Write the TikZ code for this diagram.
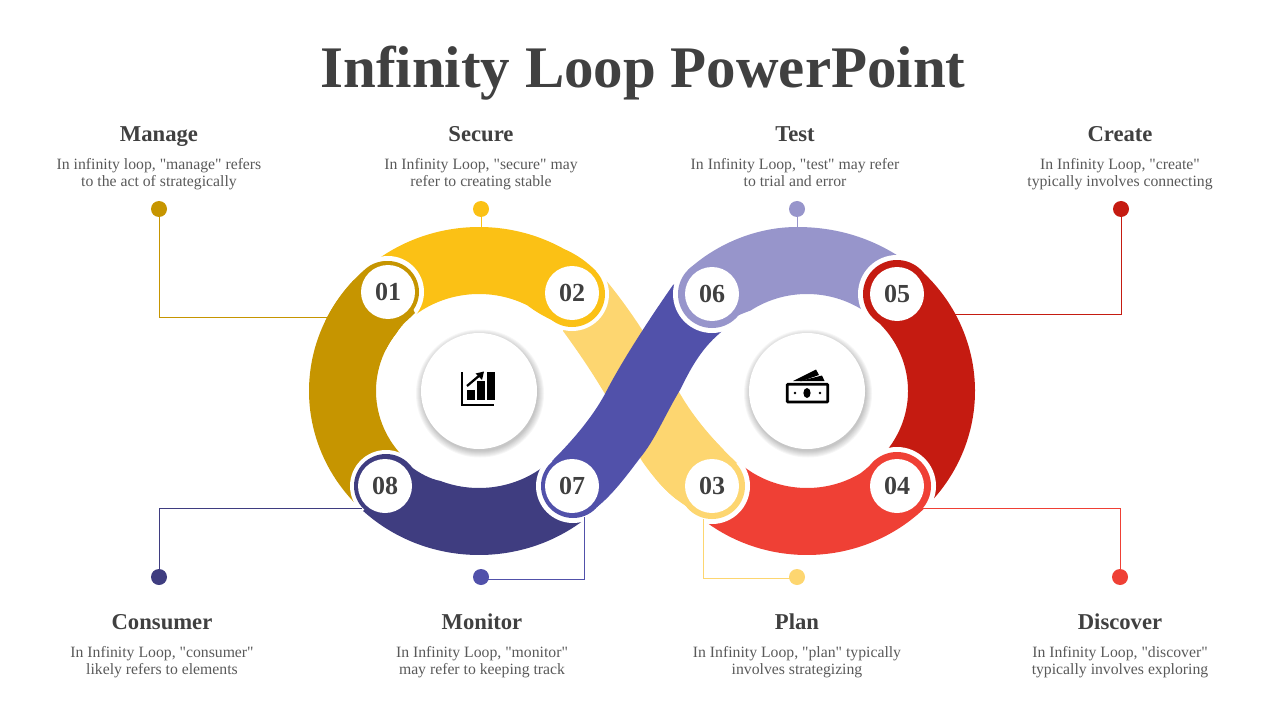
\documentclass[tikz,border=0pt]{standalone}
\usepackage{fontspec}
\setmainfont{Liberation Serif}[Ligatures=TeXOff]
\usepackage{xcolor}
\usetikzlibrary{calc}
\definecolor{goldc}{HTML}{C69500}
\definecolor{yellowc}{HTML}{FBC115}
\definecolor{sandc}{HTML}{FDD670}
\definecolor{redc}{HTML}{EF4035}
\definecolor{brickc}{HTML}{C51B11}
\definecolor{lilacc}{HTML}{9795CB}
\definecolor{bluec}{HTML}{5151AA}
\definecolor{navyc}{HTML}{3F3D80}
\definecolor{inkc}{HTML}{404040}
\definecolor{bodyc}{HTML}{595959}
\tikzset{
  titletxt/.style={font=\fontsize{44.2}{48}\selectfont\bfseries,text=inkc,anchor=base},
  headtxt/.style={font=\fontsize{17}{20}\selectfont\bfseries,text=inkc,anchor=base},
  desctxt/.style={font=\fontsize{11.8}{12.75}\selectfont,text=bodyc,align=center,text height=9pt,text depth=16pt},
  numnode/.style={circle,fill=white,inner sep=0pt,minimum size=40.5pt,text=inkc,font=\fontsize{19.5}{20}\selectfont\bfseries},
  hubnode/.style={circle,fill=white,inner sep=0pt,minimum size=87pt},
  dotnode/.style={circle,inner sep=0pt,minimum size=12pt},
  link/.style={line width=0.65pt}
}
\begin{document}
\begin{tikzpicture}[x=0.75pt,y=-0.75pt]
  \useasboundingbox (0,0) rectangle (1280,720);
  \coordinate (lc) at (479,391);
  \coordinate (rc) at (807,391);

  \node[titletxt] (title) at (643,88) {Infinity Loop PowerPoint};

  % top row texts
  \node[headtxt] (t1) at (159,141.5) {Manage};
  \node[desctxt] (d1) at (159,190.7) {In infinity loop, "manage" refers\\to the act of strategically};
  \node[headtxt] (t2) at (481,141.5) {Secure};
  \node[desctxt] (d2) at (481,190.7) {In Infinity Loop, "secure" may\\refer to creating stable};
  \node[headtxt] (t6) at (795,141.5) {Test};
  \node[desctxt] (d6) at (795,190.7) {In Infinity Loop, "test" may refer\\to trial and error};
  \node[headtxt] (t5) at (1120,141.5) {Create};
  \node[desctxt] (d5) at (1120,190.7) {In Infinity Loop, "create"\\typically involves connecting};
  % bottom row texts
  \node[headtxt] (t8) at (162,629.5) {Consumer};
  \node[desctxt] (d8) at (162,678.7) {In Infinity Loop, "consumer"\\likely refers to elements};
  \node[headtxt] (t7) at (482,629.5) {Monitor};
  \node[desctxt] (d7) at (482,678.7) {In Infinity Loop, "monitor"\\may refer to keeping track};
  \node[headtxt] (t3) at (797,629.5) {Plan};
  \node[desctxt] (d3) at (797,678.7) {In Infinity Loop, "plan" typically\\involves strategizing};
  \node[headtxt] (t4) at (1120,629.5) {Discover};
  \node[desctxt] (d4) at (1120,678.7) {In Infinity Loop, "discover"\\typically involves exploring};

  % gold band, its head comes again at the end
  \fill[goldc] ($(lc)+(130:170 and 164)$) arc[start angle=130,end angle=228,x radius=170,y radius=164]
    .. controls (372,263) and (380,261) .. (388,261) -- (415,313)
    .. controls (408,320) and (402,324) .. ($(lc)+(217:103 and 97)$)
    arc[start angle=217,end angle=130,x radius=103,y radius=97] -- cycle;
  % sand band, under the blue one
  \fill[sandc] (590,262) .. controls (625,300) and (650,340) .. (679,392)
    .. controls (695,420) and (715,442) .. (737,463) -- (686,506)
    .. controls (670,496) and (655,480) .. (642,461)
    .. controls (625,432) and (610,395) .. (563,331) -- cycle;
  % navy
  \fill[white] (386,486) circle (36);
  \fill[navyc] ($(lc)+(50:170 and 164)$) arc[start angle=50,end angle=133,x radius=170,y radius=164]
    -- (410,466) .. controls (419,473) and (430,479) .. ($(lc)+(112:103 and 97)$)
    arc[start angle=112,end angle=50,x radius=103,y radius=97] -- cycle;
  \fill[navyc] (386,486) circle (32);
  % blue
  \fill[white] (573,486) circle (37);
  \fill[bluec] (552,461) .. controls (565,448) and (592,420) .. (607,390)
    .. controls (620,365) and (645,325) .. (673,285) -- (700,270) -- (735,318) -- (720,333)
    .. controls (700,350) and (690,370) .. (680,390)
    .. controls (665,415) and (655,440) .. (640,458)
    .. controls (625,478) and (612,495) .. (597,507) -- cycle;
  \fill[bluec] (573,486) circle (32);
  % lilac
  \fill[white] (712,294) circle (39);
  \fill[lilacc] (915,268) .. controls (880,240) and (840,227) .. (797,227)
    .. controls (755,227) and (715,245) .. (688,270)
    -- (720,325) .. controls (727,321) and (735,316) .. ($(rc)+(-124:101 and 97)$)
    arc[start angle=-124,end angle=-50,x radius=101,y radius=97] -- cycle;
  \fill[lilacc] (712,294) circle (34);
  % brick
  \fill[white] (897,294) circle (39);
  \fill[brickc] (897,261) .. controls (905,262) and (912,264) .. ($(rc)+(-49:168 and 164)$)
    arc[start angle=-49,end angle=45,x radius=168,y radius=164]
    -- ($(rc)+(45:101 and 97)$)
    arc[start angle=45,end angle=-47,x radius=101,y radius=97] -- cycle;
  \fill[brickc] (897,294) circle (34);
  % red
  \fill[white] (897,486) circle (39);
  \fill[redc] ($(rc)+(46:168 and 164)$) arc[start angle=46,end angle=130,x radius=168,y radius=164]
    -- ($(rc)+(130:101 and 97)$) arc[start angle=130,end angle=58,x radius=101,y radius=97]
    .. controls (866,469) and (871,465) .. (875,460) -- cycle;
  \fill[redc] (897,486) circle (34);
  % sand head
  \fill[white] (712,486) circle (38);
  \fill[sandc] (686,405) .. controls (703,430) and (718,445) .. (737,463) -- (686,506)
    .. controls (672,497) and (664,489) .. (655,478) -- cycle;
  \fill[sandc] (712,486) circle (33);
  % yellow
  \fill[white] (572,294) circle (37);
  \fill[yellowc] ($(lc)+(225:170 and 164)$) arc[start angle=225,end angle=300,x radius=170,y radius=164]
    .. controls (578,255) and (588,263) .. (596,271) -- (556,322)
    .. controls (545,317) and (536,312) .. ($(lc)+(298:103 and 97)$)
    arc[start angle=298,end angle=225,x radius=103,y radius=97] -- cycle;
  \fill[yellowc] (572,294) circle (33);
  % gold head on top of the yellow band
  \fill[white] (388,292) circle (36);
  \fill[goldc] ($(lc)+(205:170 and 164)$) arc[start angle=205,end angle=228,x radius=170,y radius=164]
    .. controls (372,263) and (380,261) .. (388,261) -- (415,313)
    .. controls (408,320) and (402,324) .. ($(lc)+(217:103 and 97)$)
    arc[start angle=217,end angle=205,x radius=103,y radius=97] -- cycle;
  \fill[goldc] (388,292) circle (31);

  % dots and leader lines
  \node[dotnode,fill=goldc] (dot1) at (159,209) {};
  \node[dotnode,fill=yellowc] (dot2) at (481,209) {};
  \node[dotnode,fill=lilacc] (dot6) at (797,209) {};
  \node[dotnode,fill=brickc] (dot5) at (1121,209) {};
  \node[dotnode,fill=navyc] (dot8) at (159,577) {};
  \node[dotnode,fill=bluec] (dot7) at (481,577) {};
  \node[dotnode,fill=sandc] (dot3) at (797,577) {};
  \node[dotnode,fill=redc] (dot4) at (1120,577) {};
  \coordinate (e1) at (328,317);
  \coordinate (e2) at (481,228);
  \coordinate (e6) at (797,228);
  \coordinate (e5) at (955,314);
  \coordinate (e8) at (362,508);
  \coordinate (e7) at (584,517);
  \coordinate (e3) at (703,519);
  \coordinate (e4) at (923,508);
  \draw[link,goldc] (dot1) |- (e1);
  \draw[link,yellowc] (dot2) -- (e2);
  \draw[link,lilacc] (dot6) -- (e6);
  \draw[link,brickc] (dot5) |- (e5);
  \draw[link,navyc] (dot8) |- (e8);
  \draw[link,bluec] ([yshift=-1.5pt]dot7.center) -| (e7);
  \draw[link,sandc] ([yshift=-0.75pt]dot3.center) -| (e3);
  \draw[link,redc] (dot4) |- (e4);

  % number discs
  \node[numnode] (n1) at (388,292) {01};
  \node[numnode] (n2) at (572,293) {02};
  \node[numnode] (n3) at (712,486) {03};
  \node[numnode] (n4) at (897,486) {04};
  \node[numnode] (n5) at (897,294) {05};
  \node[numnode] (n6) at (712,294) {06};
  \node[numnode] (n7) at (572,486) {07};
  \node[numnode] (n8) at (385,486) {08};

  % hubs with a soft shadow
  \foreach \s in {64,63,62,61,60,59,58} {
    \fill[black,fill opacity=0.035] ($(lc)+(1,2.5)$) circle (\s);
    \fill[black,fill opacity=0.035] ($(rc)+(1,2.5)$) circle (\s);
  }
  \node[hubnode] (hubL) at (lc) {};
  \node[hubnode] (hubR) at (rc) {};

  % chart icon
  \draw[line width=2pt] (462,372) -- (462,405) -- (494,405);
  \fill (467,390) rectangle (474.5,399.5);
  \fill (477,381) rectangle (484.5,399.5);
  \fill (487,372) rectangle (494.5,399.5);
  \draw[line width=1.7pt] (467,386) -- (480,375);
  \fill (484,371.5) -- (482,380) -- (475.5,373.5) -- cycle;
  % money icon
  \draw[line width=2pt,rounded corners=0.5pt] (787.3,384.3) rectangle (827.7,402);
  \fill (807,393) ellipse (3.6 and 5);
  \fill (795,393) circle (1.4);
  \fill (820,393) circle (1.4);
  \fill (793,381) -- (816,369.5) -- (819,375) -- (802,381) -- cycle;
  \fill (800,381) -- (822,375.5) -- (824.5,381) -- cycle;
\end{tikzpicture}
\end{document}
